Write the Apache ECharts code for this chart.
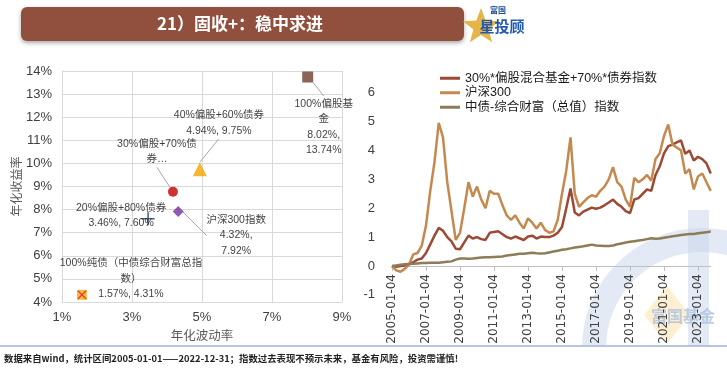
<!DOCTYPE html>
<html><head><meta charset="utf-8">
<script src="https://cdn.jsdelivr.net/npm/echarts@6/dist/echarts.min.js"></script>
<style>html,body{margin:0;padding:0;background:#fff}#c{width:727px;height:370px}</style>
</head><body><div id="c"></div>
<script>
// ---------- scatter data ----------
const scatterNames = ['100%偏股基金','40%偏股+60%债券','30%偏股+70%债券','20%偏股+80%债券','沪深300指数','100%纯债（中债综合财富总指数）'];
const scatterVol = [8.02, 4.94, 4.17, 3.46, 4.32, 1.57];
const scatterRet = [13.74, 9.75, 8.77, 7.60, 7.92, 4.31];
const labelHeads = ['100%偏股基\n金','40%偏股+60%债券','30%偏股+70%债\n券…','20%偏股+80%债券','沪深300指数','100%纯债（中债综合财富总指\n数）'];
const labelSeps = [',\n', ', ', null, ', ', ',\n', ', '];
const volTicks = [1, 3, 5, 7, 9];

// ---------- line data (quarterly) ----------
const dates = [
'2005-01-04','2005-04-04','2005-07-04','2005-10-04',
'2006-01-04','2006-04-04','2006-07-04','2006-10-04',
'2007-01-04','2007-04-04','2007-07-04','2007-10-04',
'2008-01-04','2008-04-04','2008-07-04','2008-10-04',
'2009-01-04','2009-04-04','2009-07-04','2009-10-04',
'2010-01-04','2010-04-04','2010-07-04','2010-10-04',
'2011-01-04','2011-04-04','2011-07-04','2011-10-04',
'2012-01-04','2012-04-04','2012-07-04','2012-10-04',
'2013-01-04','2013-04-04','2013-07-04','2013-10-04',
'2014-01-04','2014-04-04','2014-07-04','2014-10-04',
'2015-01-04','2015-04-04','2015-07-04','2015-10-04',
'2016-01-04','2016-04-04','2016-07-04','2016-10-04',
'2017-01-04','2017-04-04','2017-07-04','2017-10-04',
'2018-01-04','2018-04-04','2018-07-04','2018-10-04',
'2019-01-04','2019-04-04','2019-07-04','2019-10-04',
'2020-01-04','2020-04-04','2020-07-04','2020-10-04',
'2021-01-04','2021-04-04','2021-07-04','2021-10-04',
'2022-01-04','2022-04-04','2022-07-04','2022-10-04',
'2023-01-04','2023-04-04','2023-07-04','2023-10-04'];
const comboVals = [0,-0.03,0,0.02, 0.06,0.13,0.22,0.26, 0.45,0.75,1.05,1.32, 1.22,1.0,0.85,0.6,
 0.58,0.82,1.05,0.95, 1.0,0.93,0.9,1.15, 1.18,1.2,1.1,1.0, 0.95,1.02,0.96,0.9,
 1.02,1.05,0.95,1.02, 1.0,1.0,1.05,1.15, 1.35,2.0,2.68,1.85, 1.75,1.88,1.95,2.02,
 1.98,2.02,2.1,2.2, 2.3,2.15,2.05,1.9, 1.83,2.3,2.35,2.5, 2.65,2.6,3.15,3.45,
 3.9,4.15,4.2,4.28, 4.35,3.88,4.0,3.65, 3.78,3.7,3.55,3.2];
const hs300Vals = [0,-0.15,-0.2,-0.1, 0.05,0.4,0.45,0.7, 1.4,2.6,3.6,4.95, 4.45,2.9,1.9,0.9,
 1.15,2.0,2.9,2.4, 2.75,2.3,2.0,2.6, 2.5,2.5,2.1,1.75, 1.6,1.75,1.5,1.3,
 1.65,1.5,1.3,1.5, 1.25,1.15,1.2,1.6, 2.5,3.3,4.45,2.5, 2.05,2.2,2.35,2.45,
 2.4,2.6,2.75,3.0, 3.42,2.9,2.75,2.3, 2.05,3.05,2.9,3.0, 3.15,2.95,3.7,3.9,
 4.5,4.9,4.2,4.1, 4.0,3.2,3.35,2.65, 3.1,3.2,2.9,2.6];
const bondVals = [0,0.02,0.04,0.06, 0.07,0.08,0.09,0.1, 0.1,0.11,0.11,0.11, 0.13,0.15,0.16,0.22,
 0.26,0.26,0.25,0.26, 0.28,0.29,0.3,0.3, 0.31,0.32,0.33,0.36, 0.38,0.4,0.42,0.42,
 0.44,0.46,0.44,0.43, 0.44,0.47,0.5,0.53, 0.56,0.58,0.61,0.64, 0.66,0.68,0.71,0.74,
 0.71,0.7,0.69,0.69, 0.71,0.75,0.78,0.81, 0.84,0.86,0.88,0.9, 0.93,0.96,0.94,0.95,
 0.98,1.0,1.03,1.05, 1.07,1.09,1.11,1.11, 1.13,1.15,1.17,1.19];
const lineNames = ['30%*偏股混合基金+70%*债券指数','沪深300','中债-综合财富（总值）指数'];
const yTicks = [-1, 6, 1]; // min, max, interval

// ---------- styles ----------
const FONT = "'Liberation Sans','Noto Sans CJK SC',sans-serif";
const CJK = "'Noto Sans CJK SC',sans-serif";
const pointStyles = [
 {symbol:'rect', size:11, color:'#6F3E2E', dx:16, dy:50, line:true},
 {symbol:'triangle', size:14, color:'#F5A300', dx:19, dy:-46, line:true},
 {symbol:'circle', size:10, color:'#C00000', dx:-16, dy:-40, line:true},
 {symbol:'path://M4.4,0H5.6V4.4H10V5.6H5.6V10H4.4V5.6H0V4.4H4.4Z', size:13, color:'#1F3864', dx:-27, dy:-3, line:false},
 {symbol:'diamond', size:11, color:'#7030A0', dx:58, dy:24, line:true},
 {symbol:'rect', size:10, color:'#F6A81F', dx:49, dy:-16, line:false}
];
const lineColors = ['#9C4A34','#C4894F','#8C7C58'];

const scatterData = scatterNames.map((n, i) => {
  const s = pointStyles[i];
  let text = labelHeads[i];
  if (labelSeps[i] !== null) text += '\n' + scatterVol[i].toFixed(2) + '%' + labelSeps[i] + scatterRet[i].toFixed(2) + '%';
  return {
    name: n, value: [scatterVol[i], scatterRet[i]],
    symbol: s.symbol, symbolSize: s.size,
    itemStyle: {color: s.color},
    label: {formatter: text},
    labelLine: {show: s.line}
  };
});

const chart = echarts.init(document.getElementById('c'));
const star = [];
for (let k = 0; k < 10; k++) {
  const a = -Math.PI / 2 + k * Math.PI / 5;
  const r = k % 2 === 0 ? 19 : 8;
  star.push([481 + r * Math.cos(a), 27 + r * Math.sin(a)]);
}
const wm = 'rgba(200,214,236,0.5)';
const zeroOffset = -202.3 / 7; // move x axis up to the zero line
chart.setOption({
  animation: false,
  textStyle: {fontFamily: FONT},
  grid: [
    {left: 62, top: 71, width: 280, height: 231},
    {left: 392, top: 92.6, width: 318.75, height: 202.3}
  ],
  legend: {
    data: lineNames, orient: 'vertical', left: 435, top: 66,
    itemWidth: 20, itemHeight: 3, itemGap: 0, icon: 'rect',
    textStyle: {fontSize: 12.5, color: '#1a1a1a', fontFamily: FONT, lineHeight: 14.5}
  },
  xAxis: [
    {type: 'value', gridIndex: 0, min: volTicks[0], max: volTicks[volTicks.length-1], interval: volTicks[1]-volTicks[0],
     axisLabel: {formatter: '{value}%', fontSize: 13, color: '#404040', margin: 9},
     splitLine: {lineStyle: {color: '#D9D9D9'}},
     axisLine: {lineStyle: {color: '#D9D9D9'}}, axisTick: {show: false},
     name: '年化波动率', nameLocation: 'middle', nameGap: 24,
     nameTextStyle: {fontSize: 12.5, color: '#595959', fontFamily: CJK}},
    {type: 'category', gridIndex: 1, data: dates, boundaryGap: false, offset: zeroOffset,
     axisLine: {onZero: false, lineStyle: {color: '#BFBFBF', width: 1}},
     axisTick: {interval: 7, length: 5, lineStyle: {color: '#BFBFBF'}},
     axisLabel: {interval: 7, rotate: 90, fontSize: 12, color: '#404040', margin: 8, fontFamily: "'DejaVu Sans',sans-serif"}}
  ],
  yAxis: [
    {type: 'value', gridIndex: 0, min: 4, max: 14, interval: 1,
     axisLabel: {formatter: '{value}%', fontSize: 13, color: '#404040', margin: 10},
     splitLine: {lineStyle: {color: '#D9D9D9'}},
     axisLine: {show: true, lineStyle: {color: '#D9D9D9'}}, axisTick: {show: false},
     name: '年化收益率', nameLocation: 'middle', nameGap: 34,
     nameTextStyle: {fontSize: 12, color: '#595959', fontFamily: CJK}},
    {type: 'value', gridIndex: 1, min: yTicks[0], max: yTicks[1], interval: yTicks[2],
     splitLine: {show: false}, axisLine: {show: false}, axisTick: {show: false},
     axisLabel: {fontSize: 13, color: '#404040', margin: 17}}
  ],
  graphic: [
    {type: 'rect', z: 0, shape: {x: 21, y: 7, width: 443, height: 34, r: 6},
     style: {fill: '#91503D', shadowBlur: 4, shadowColor: 'rgba(0,0,0,0.35)', shadowOffsetY: 2}},
    {type: 'text', z: 1, style: {x: 240, y: 24, text: '21）固收+：稳中求进', fill: '#fff',
     font: 'bold 17px ' + CJK, align: 'center', verticalAlign: 'middle'}},
    {type: 'polygon', z: 1, shape: {points: star}, style: {fill: '#E6B54A'}},
    {type: 'text', z: 2, style: {x: 498, y: 10, text: '富国', fill: '#1B4A94', font: 'bold 8px ' + CJK, align: 'center', verticalAlign: 'middle'}},
    {type: 'text', z: 2, style: {x: 502, y: 26, text: '星投顾', fill: '#1F5AAE', font: 'bold 15px ' + CJK, align: 'center', verticalAlign: 'middle'}},
    // watermark
    {type: 'arc', z: -1, shape: {cx: 702, cy: 348, r: 108, startAngle: Math.PI, endAngle: Math.PI * 1.95}, style: {stroke: wm, lineWidth: 24, fill: null}},
    {type: 'rect', z: -1, shape: {x: 688, y: 210, width: 21, height: 136}, style: {fill: wm}},
    {type: 'polygon', z: -1, shape: {points: [[667, 286], [690, 315], [667, 344], [644, 315]]}, style: {fill: 'rgba(253,232,188,0.7)'}},
    {type: 'text', z: -1, style: {x: 683, y: 316, text: '富国基金', fill: 'rgba(176,196,226,0.85)', font: 'bold 16px ' + CJK, align: 'center', verticalAlign: 'middle'}},
    // footer
    {type: 'rect', z: 100, shape: {x: 0, y: 345.5, width: 727, height: 25}, style: {fill: '#fff'}},
    {type: 'line', z: 101, shape: {x1: 0, y1: 346, x2: 727, y2: 346}, style: {stroke: '#9EB3D1', lineWidth: 1.5}},
    {type: 'text', z: 101, style: {x: 4, y: 358, text: '数据来自wind，统计区间2005-01-01——2022-12-31；指数过去表现不预示未来，基金有风险，投资需谨慎!',
     fill: '#222', font: 'bold 9.4px ' + CJK, verticalAlign: 'middle'}}
  ],
  series: [
    {type: 'scatter', xAxisIndex: 0, yAxisIndex: 0, data: scatterData, z: 3,
     label: {show: true, position: 'inside', fontSize: 10.5, lineHeight: 15.5, color: '#0d0d0d', fontFamily: FONT, align: 'center', verticalAlign: 'middle'},
     labelLine: {lineStyle: {color: '#A6A6A6', width: 1}},
     labelLayout: function (p) { const s = pointStyles[p.dataIndex]; return {dx: s.dx, dy: s.dy, hideOverlap: false}; }},
    {type: 'scatter', xAxisIndex: 0, yAxisIndex: 0, silent: true, z: 4,
     data: [[scatterVol[5], scatterRet[5]]],
     symbol: 'path://M1,0L5,4L9,0L10,1L6,5L10,9L9,10L5,6L1,10L0,9L4,5L0,1Z', symbolSize: 9,
     itemStyle: {color: '#E41A1A'}},
    {type: 'line', name: lineNames[0], xAxisIndex: 1, yAxisIndex: 1, data: comboVals, showSymbol: false,
     lineStyle: {width: 2.5, color: lineColors[0]}, itemStyle: {color: lineColors[0]}},
    {type: 'line', name: lineNames[1], xAxisIndex: 1, yAxisIndex: 1, data: hs300Vals, showSymbol: false,
     lineStyle: {width: 2.5, color: lineColors[1]}, itemStyle: {color: lineColors[1]}},
    {type: 'line', name: lineNames[2], xAxisIndex: 1, yAxisIndex: 1, data: bondVals, showSymbol: false,
     lineStyle: {width: 2.5, color: lineColors[2]}, itemStyle: {color: lineColors[2]}}
  ]
});
</script></body></html>
